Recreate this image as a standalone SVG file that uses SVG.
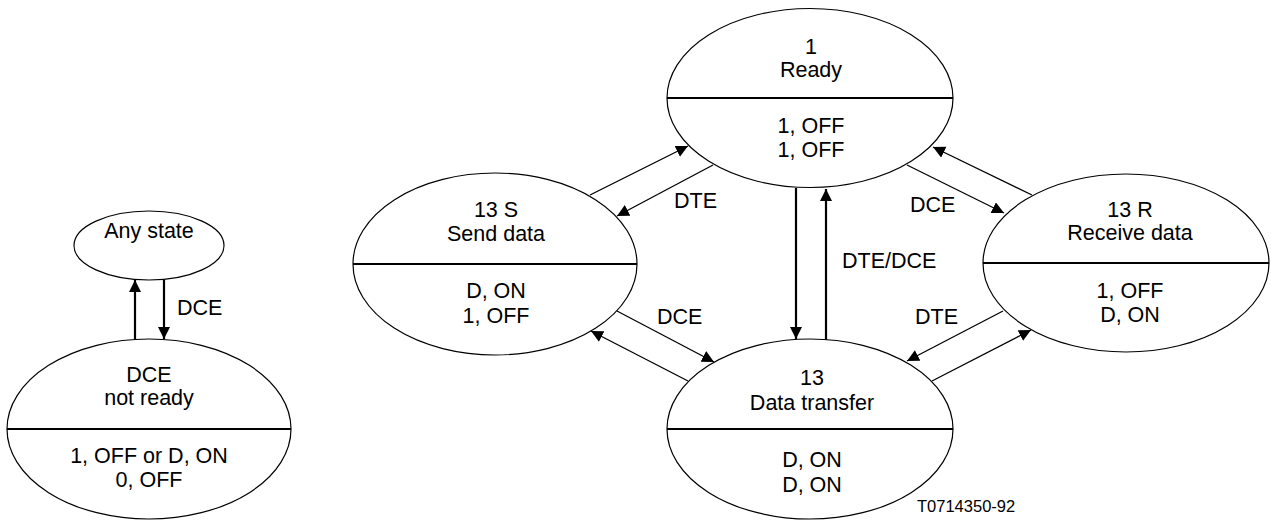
<svg xmlns="http://www.w3.org/2000/svg" width="1271" height="522" viewBox="0 0 1271 522">
<style>
.bg{fill:#fff}
.st{fill:#fff;stroke:#000;stroke-width:1.2}
.dv{stroke:#000;stroke-width:2.2}
text{font-family:"Liberation Sans",Arial,sans-serif;font-size:21.5px;fill:#000;text-anchor:middle}
.lb{text-anchor:start}
.dg{stroke:#000;stroke-width:1.3;fill:none;marker-end:url(#ah)}
.vt{stroke:#000;stroke-width:2.2;fill:none;marker-end:url(#ah)}
.code{font-size:16.5px;text-anchor:start}
</style>
<defs>
<marker id="ah" markerUnits="userSpaceOnUse" markerWidth="13" markerHeight="13" refX="12" refY="6" orient="auto">
<path d="M0,0 L12,6 L0,12 z" fill="#000"/>
</marker>
</defs>
<rect class="bg" x="0" y="0" width="1271" height="522"/>
<g id="connectors">
<line class="vt" x1="135" y1="339" x2="135" y2="280"/>
<line class="vt" x1="164" y1="280" x2="164" y2="339"/>
<line class="dg" x1="590" y1="195" x2="688" y2="146"/>
<line class="dg" x1="713" y1="165" x2="617" y2="216"/>
<line class="dg" x1="617" y1="311" x2="714" y2="362"/>
<line class="dg" x1="688" y1="381" x2="591" y2="331"/>
<line class="dg" x1="907" y1="165" x2="1004" y2="213"/>
<line class="dg" x1="1032" y1="195" x2="933" y2="147"/>
<line class="dg" x1="1003" y1="311" x2="907" y2="361"/>
<line class="dg" x1="932" y1="381" x2="1031" y2="330"/>
<line class="vt" x1="796" y1="188" x2="796" y2="339"/>
<line class="vt" x1="826" y1="340" x2="826" y2="189"/>
<text class="lb" x="177" y="315">DCE</text>
<text class="lb" x="674" y="208">DTE</text>
<text class="lb" x="910" y="212">DCE</text>
<text class="lb" x="842" y="268">DTE/DCE</text>
<text class="lb" x="657" y="324">DCE</text>
<text class="lb" x="915" y="324">DTE</text>
</g>
<g id="any-state">
<ellipse class="st" cx="149" cy="245.5" rx="75" ry="34.5"/>
<text x="149" y="238">Any state</text>
</g>
<g id="dce-not-ready">
<ellipse class="st" cx="149" cy="429" rx="142" ry="90"/>
<line class="dv" x1="7" y1="429" x2="291" y2="429"/>
<text x="149" y="382">DCE</text>
<text x="149" y="405">not ready</text>
<text x="149" y="463">1, OFF or D, ON</text>
<text x="149" y="487">0, OFF</text>
</g>
<g id="ready">
<ellipse class="st" cx="810" cy="98" rx="143" ry="89.5"/>
<line class="dv" x1="667" y1="98" x2="953" y2="98"/>
<text x="811" y="54">1</text>
<text x="811" y="77">Ready</text>
<text x="811" y="133">1, OFF</text>
<text x="811" y="157">1, OFF</text>
</g>
<g id="send-data">
<ellipse class="st" cx="495" cy="264" rx="142" ry="91"/>
<line class="dv" x1="353" y1="264" x2="637" y2="264"/>
<text x="496" y="217">13 S</text>
<text x="496" y="241">Send data</text>
<text x="496" y="298">D, ON</text>
<text x="496" y="323">1, OFF</text>
</g>
<g id="data-transfer">
<ellipse class="st" cx="810" cy="429" rx="143" ry="90"/>
<line class="dv" x1="667" y1="429" x2="953" y2="429"/>
<text x="812" y="385">13</text>
<text x="812" y="410">Data transfer</text>
<text x="812" y="467">D, ON</text>
<text x="812" y="492">D, ON</text>
</g>
<g id="receive-data">
<ellipse class="st" cx="1126" cy="263" rx="143" ry="89"/>
<line class="dv" x1="983" y1="263" x2="1269" y2="263"/>
<text x="1130" y="217">13 R</text>
<text x="1130" y="240">Receive data</text>
<text x="1130" y="298">1, OFF</text>
<text x="1130" y="322">D, ON</text>
</g>
<text class="code" x="917" y="512">T0714350-92</text>
</svg>
